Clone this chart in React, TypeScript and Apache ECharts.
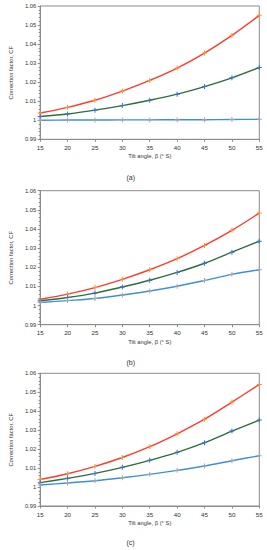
import React, { useEffect, useRef } from "react";
import * as echarts from "echarts";

const tiltAngles = [15, 20, 25, 30, 35, 40, 45, 50, 55];

const redA = [1.0038, 1.0068, 1.0105, 1.0153, 1.0209, 1.0274, 1.0353, 1.0446, 1.0551];
const greenA = [1.0020, 1.0033, 1.0053, 1.0077, 1.0105, 1.0137, 1.0177, 1.0223, 1.0277];
const blueA = [1.0000, 1.0001, 1.0001, 1.0002, 1.0002, 1.0003, 1.0003, 1.0004, 1.0005];

const redB = [1.0033, 1.0060, 1.0094, 1.0137, 1.0187, 1.0245, 1.0314, 1.0393, 1.0483];
const greenB = [1.0025, 1.0042, 1.0065, 1.0097, 1.0132, 1.0173, 1.0221, 1.0279, 1.0336];
const blueB = [1.0016, 1.0026, 1.0037, 1.0055, 1.0076, 1.0101, 1.0131, 1.0163, 1.0187];

const redC = [1.0040, 1.0070, 1.0109, 1.0156, 1.0213, 1.0281, 1.0358, 1.0448, 1.0541];
const greenC = [1.0023, 1.0046, 1.0072, 1.0104, 1.0141, 1.0183, 1.0234, 1.0295, 1.0353];
const blueC = [1.0011, 1.0021, 1.0033, 1.0049, 1.0067, 1.0088, 1.0111, 1.0139, 1.0165];

const panelLabels = ["(a)", "(b)", "(c)"];
const xName = "Tilt angle, β (° S)";
const yName = "Correction factor, CF";

const FONT = "Liberation Sans";
const TEXT = "#333333";
const AXIS = "#8c8c8c";

const plus = "path://M4,0H6V4H10V6H6V10H4V6H0V4H4Z";

export default function App() {
  const ref = useRef<HTMLDivElement>(null);
  useEffect(() => {
    if (!ref.current) return;
    const chart = echarts.init(ref.current, null, { renderer: "svg" });
    const grids = [
      { left: 29.3, right: 7.7, top: 6, height: 133.3 },
      { left: 29.3, right: 7.7, top: 190.7, height: 134 },
      { left: 29.3, right: 7.7, top: 373.3, height: 132.7 },
    ];
    const panels = [
      [redA, greenA, blueA],
      [redB, greenB, blueB],
      [redC, greenC, blueC],
    ];
    const lineColors = ["#ff3b2f", "#2d6e3e", "#3d8fd8"];
    const markColors = ["#f7933a", "#3a72c8", "#a6a6a6"];
    const series: any[] = [];
    panels.forEach((p, gi) => {
      p.forEach((vals, si) => {
        series.push({
          type: "line",
          xAxisIndex: gi,
          yAxisIndex: gi,
          smooth: 0.3,
          data: tiltAngles.map((x, i) => [x, vals[i]]),
          lineStyle: { color: lineColors[si], width: 1.4 },
          itemStyle: { color: markColors[si] },
          symbol: plus,
          symbolSize: 5,
          z: 3 + si,
        });
      });
    });
    const labelTops = [174, 358.5, 538.5];
    chart.setOption({
      animation: false,
      grid: grids.map((g) => ({
        ...g,
        show: true,
        borderColor: AXIS,
        borderWidth: 1,
        backgroundColor: "transparent",
      })),
      xAxis: grids.map((_, i) => ({
        type: "value",
        gridIndex: i,
        min: 15,
        max: 55,
        interval: 5,
        name: xName,
        nameLocation: "middle",
        nameGap: 14,
        nameTextStyle: { fontFamily: FONT, fontSize: 5.8, color: TEXT },
        axisLine: { show: true, lineStyle: { color: AXIS, width: 1 } },
        axisTick: { show: true, length: 2.5, lineStyle: { color: AXIS } },
        axisLabel: { fontFamily: FONT, fontSize: 6.2, color: TEXT, margin: 5 },
        splitLine: { show: false },
      })),
      yAxis: grids.map((_, i) => ({
        type: "value",
        gridIndex: i,
        min: 0.99,
        max: 1.06,
        interval: 0.01,
        name: yName,
        nameLocation: "middle",
        nameGap: 20,
        nameTextStyle: { fontFamily: FONT, fontSize: 5.8, color: TEXT },
        axisLine: { show: true, lineStyle: { color: AXIS, width: 1 } },
        axisTick: { show: true, length: 2.5, lineStyle: { color: AXIS } },
        minorTick: { show: true, splitNumber: 5, length: 1.5, lineStyle: { color: AXIS } },
        axisLabel: { fontFamily: FONT, fontSize: 5.8, color: TEXT, margin: 4 },
        splitLine: { show: false },
      })),
      graphic: panelLabels.map((t, i) => ({
        type: "text",
        left: 126.5,
        top: labelTops[i],
        style: { text: t, fontFamily: FONT, fontSize: 7, fill: TEXT },
      })),
      series,
    });
    return () => chart.dispose();
  }, []);
  return (
    <div
      ref={ref}
      style={{ position: "absolute", left: 0, top: 0, width: 267, height: 550, background: "#fff" }}
    />
  );
}
